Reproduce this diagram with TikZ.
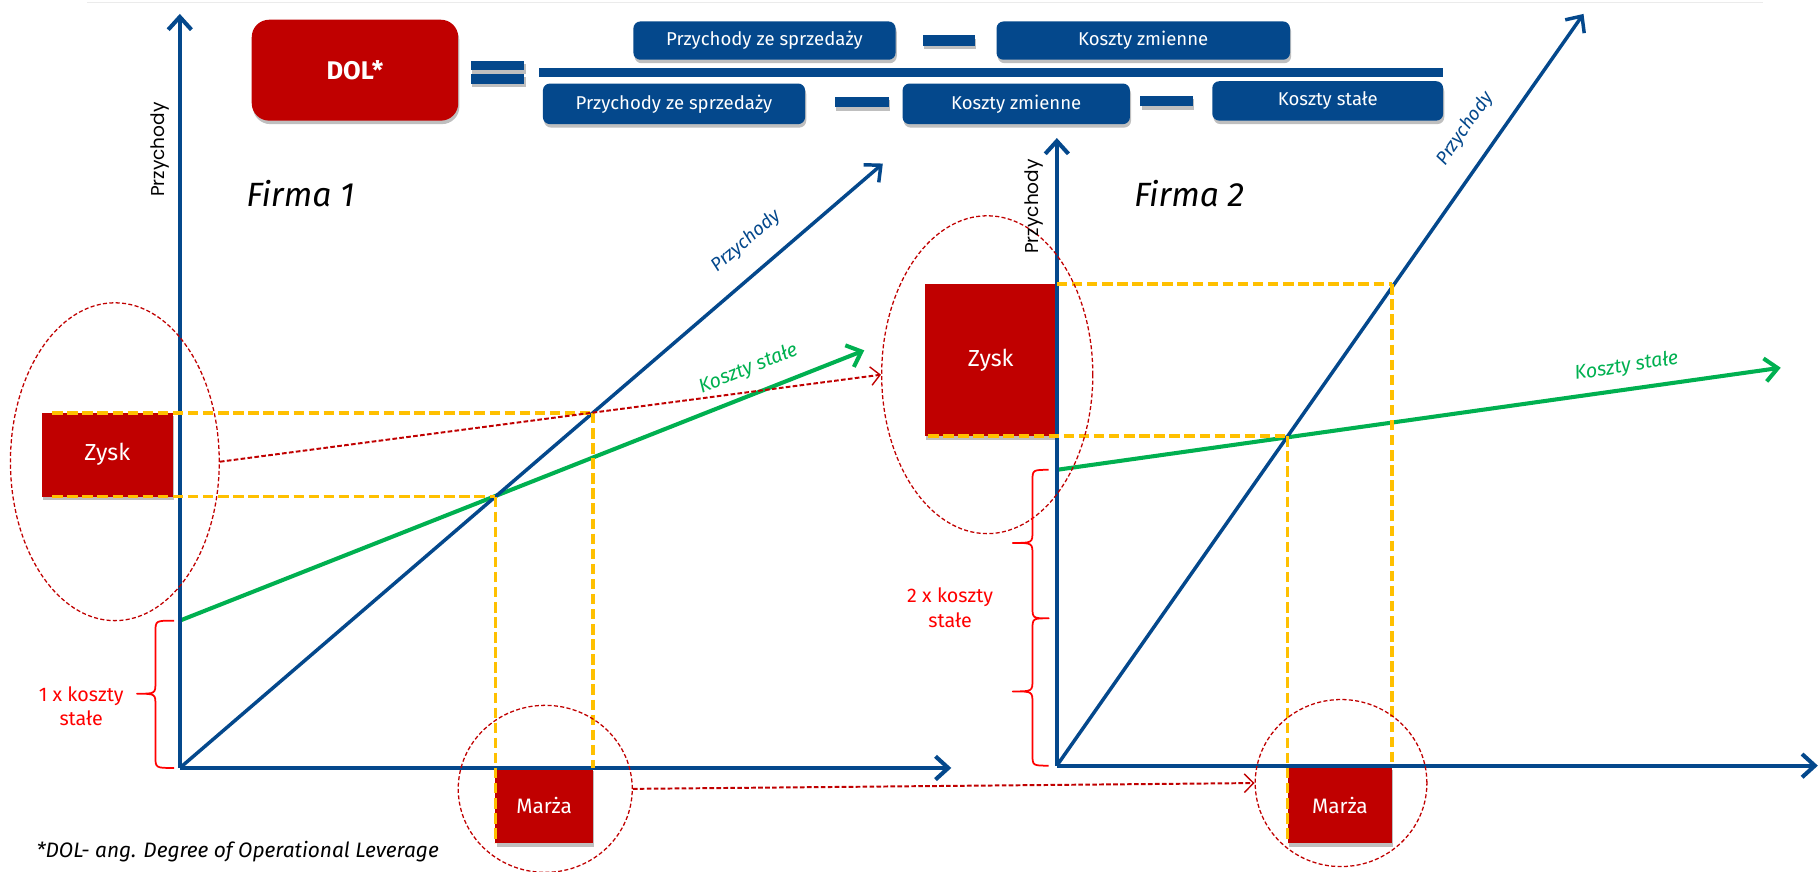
\documentclass[tikz,border=0pt]{standalone}
\usepackage{fontspec}
\setmainfont{Fira Sans}
\newfontfamily\geo{Poppins}
\usetikzlibrary{arrows.meta,shadows,shapes.geometric}
\definecolor{dblue}{RGB}{4,72,140}
\definecolor{dred}{RGB}{192,0,0}
\definecolor{lgreen}{RGB}{0,176,80}
\definecolor{gold}{RGB}{255,192,0}
\definecolor{brred}{RGB}{255,0,0}
\begin{document}
\begin{tikzpicture}[x=1pt,y=-1pt,
  shd/.style={drop shadow={shadow xshift=1pt,shadow yshift=-3pt,fill=black,opacity=0.25}},
  fbox/.style={fill=dblue,rounded corners=6pt,text=white,inner sep=0pt,shd,
    font=\fontsize{16}{18}\selectfont},
  bar/.style={fill=dblue,inner sep=0pt,shd},
  rbox/.style={fill=dred,text=white,inner sep=0pt,shd,font=\fontsize{20}{22}\selectfont},
  axis/.style={draw=dblue,line width=3.5pt,-{Straight Barb[length=11pt,width=20pt]}},
  revline/.style={draw=dblue,line width=3pt,-{Straight Barb[length=11pt,width=20pt]}},
  costline/.style={draw=lgreen,line width=3.5pt,-{Straight Barb[length=11pt,width=20pt]}},
  guide/.style={draw=gold,line width=3pt,dash pattern=on 9pt off 4pt},
  ring/.style={ellipse,draw=dred,line width=1.1pt,dash pattern=on 3.5pt off 2pt,inner sep=0pt},
  link/.style={draw=dred,line width=1.7pt,dash pattern=on 4pt off 2pt,-{Straight Barb[length=8pt,width=16pt,line width=1.2pt]}},
  curly/.style={draw=brred,line width=1.5pt,line join=round},
  redtxt/.style={text=brred,align=center,font=\fontsize{17}{21}\selectfont},
  title/.style={font=\fontsize{29}{32}\selectfont\itshape},
  axlabel/.style={rotate=90,font=\geo\fontsize{16}{18}\selectfont},
  bluelab/.style={text=dblue,font=\fontsize{16}{18}\selectfont\itshape},
  greenlab/.style={text=lgreen,font=\fontsize{17}{18}\selectfont\itshape}]
\useasboundingbox (0,0) rectangle (1568,751);
\draw[black!8,line width=1pt] (75,2) -- (1520,2);

% ---------- formula ----------
\node[fill=dred,rounded corners=15pt,text=white,shd,minimum width=178pt,minimum height=87pt,inner sep=0pt,
  font=\fontsize{22}{24}\selectfont\bfseries] (dol) at (306,60.5) {DOL*};
\node[bar,minimum width=46pt,minimum height=8.5pt] (eqa) at (429,56.5) {};
\node[bar,minimum width=46pt,minimum height=8.5pt] (eqb) at (429,68) {};
\node[fill=dblue,inner sep=0pt,minimum width=779pt,minimum height=7pt] (frac) at (854.5,62.5) {};
\node[fbox,minimum width=226pt,minimum height=33pt] (n1) at (659,35) {Przychody ze sprzedaży};
\node[bar,minimum width=45pt,minimum height=9pt] (nm) at (818,35) {};
\node[fbox,minimum width=253pt,minimum height=33pt] (n2) at (985.5,35) {Koszty zmienne};
\node[fbox,minimum width=226pt,minimum height=35pt] (d1) at (581,89.5) {Przychody ze sprzedaży};
\node[bar,minimum width=46pt,minimum height=9pt] (dm1) at (743,88) {};
\node[fbox,minimum width=196pt,minimum height=35pt] (d2) at (876,89.5) {Koszty zmienne};
\node[bar,minimum width=45pt,minimum height=9pt] (dm2) at (1005.5,87) {};
\node[fbox,minimum width=199pt,minimum height=34pt] (d3) at (1144.5,87) {Koszty stałe};

% ---------- Firma 1 ----------
\coordinate (o1) at (155,662);
\coordinate (y1) at (155,12);
\coordinate (x1) at (820,662);
\coordinate (b1) at (761,141);
\coordinate (g1s) at (155,535);
\coordinate (g1e) at (745,302);
\coordinate (i1) at (427,428);
\coordinate (p1) at (511,356);

\node[rbox,minimum width=113pt,minimum height=72pt] (z1) at (92.5,392) {Zysk};
\node[rbox,minimum width=84pt,minimum height=65pt,font=\fontsize{18}{20}\selectfont] (m1) at (469,694.5) {Marża};

\draw[costline] (g1s) -- (g1e);
\draw[revline] (o1) -- (b1);
\draw[axis] (o1) -- (y1);
\draw[axis] (o1) -- (x1);

\draw[guide] (45,356) -- (p1);
\draw[guide] (45,428) -- (i1);
\draw[guide] (i1) -- (427,727);
\draw[guide] (p1) -- (511,662);

\node[ring,minimum width=180pt,minimum height=274pt] (e1) at (99,398) {};
\node[ring,minimum width=150pt,minimum height=144pt] (e3) at (470,680) {};

% brace 1 x
\draw[curly] (150,535) .. controls (134,535) .. (134,545) -- (134,588)
  .. controls (134,598) .. (118,598) .. controls (134,598) .. (134,608)
  -- (134,652) .. controls (134,662) .. (150,662);
\node[redtxt] (t1) at (70,609) {1 x koszty\\stałe};

\node[title] (f1) at (259,167) {Firma 1};
\node[axlabel] (a1) at (138,129) {Przychody};
\node[bluelab,rotate=40.7] (bl1) at (643,208) {Przychody};
\node[greenlab,rotate=22] (gl1) at (645,318) {Koszty stałe};

\node[anchor=west,font=\fontsize{18}{20}\selectfont\itshape] (foot) at (28,734) {*DOL- ang. Degree of Operational Leverage};

% ---------- Firma 2 ----------
\coordinate (o2) at (911,660);
\coordinate (y2) at (911,119);
\coordinate (x2) at (1567,660);
\coordinate (b2) at (1365,12);
\coordinate (g2s) at (911,405);
\coordinate (g2e) at (1535,317);
\coordinate (i2) at (1110,376);
\coordinate (p2) at (1200,245);

\node[rbox,minimum width=114pt,minimum height=131pt] (z2) at (854,310.5) {Zysk};
\node[rbox,minimum width=90pt,minimum height=66pt,font=\fontsize{18}{20}\selectfont] (m2) at (1155,694) {Marża};

\draw[costline] (g2s) -- (g2e);
\draw[revline] (o2) -- (b2);
\draw[axis] (o2) -- (y2);
\draw[axis] (o2) -- (x2);

\draw[guide] (911,245) -- (p2);
\draw[guide] (800,376) -- (i2);
\draw[guide] (i2) -- (1110,727);
\draw[guide] (p2) -- (1200,660);

\node[ring,minimum width=182pt,minimum height=274pt] (e2) at (851,323) {};
\node[ring,minimum width=148pt,minimum height=144pt] (e4) at (1156,675) {};

% brace 2 x (two stacked braces)
\draw[curly] (904,405) .. controls (890,405) .. (890,415) -- (890,458)
  .. controls (890,468) .. (873,468) .. controls (890,468) .. (890,478)
  -- (890,523) .. controls (890,533) .. (904,533)
  .. controls (890,533) .. (890,543) -- (890,586)
  .. controls (890,596) .. (873,596) .. controls (890,596) .. (890,606)
  -- (890,650) .. controls (890,660) .. (904,660);
\node[redtxt] (t2) at (819,524) {2 x koszty\\stałe};

\node[title] (f2) at (1025,167) {Firma 2};
\node[axlabel] (a2) at (891,178) {Przychody};
\node[bluelab,rotate=55] (bl2) at (1263,111) {Przychody};
\node[greenlab,rotate=9] (gl2) at (1402,316) {Koszty stałe};

% ---------- links ----------
\draw[link] (e1.east) -- (e2.west);
\draw[link] (e3.east) -- (e4.west);
\end{tikzpicture}
\end{document}
